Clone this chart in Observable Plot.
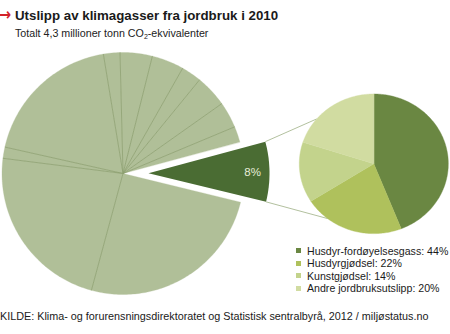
<!DOCTYPE html>
<html>
<head>
<meta charset="utf-8">
<script src="https://cdn.jsdelivr.net/npm/d3@7"></script>
<script src="https://cdn.jsdelivr.net/npm/@observablehq/plot@0.6"></script>
<style>
  html, body { margin: 0; padding: 0; background: #fff; }
  body { font-family: "Liberation Sans", Arial, sans-serif; color: #1a1a1a; }
  #wrap { position: relative; width: 450px; height: 334px; overflow: hidden; }
  #title { position: absolute; left: 15px; top: 8px; font-size: 13.3px; font-weight: bold; white-space: nowrap; line-height: 16px; }
  #arrow { position: absolute; left: -1px; top: 4px; color: #d2232a; font-family: "DejaVu Sans", sans-serif; font-weight: bold; font-size: 17px; line-height: 20px; transform: scaleX(0.85); transform-origin: left center; }
  #sub { position: absolute; left: 15px; top: 26px; font-size: 10.7px; white-space: nowrap; line-height: 14px; color: #222; }
  #sub sub { font-size: 7px; vertical-align: -2px; line-height: 0; }
  #chart { position: absolute; left: 0; top: 44px; }
  #legend { position: absolute; left: 296px; top: 244.5px; font-size: 10.6px; color: #1a1a1a; }
  #legend .row { display: flex; align-items: center; height: 12.5px; white-space: nowrap; }
  #legend .sw { width: 5px; height: 5px; margin-right: 6px; flex: none; }
  #caption { position: absolute; left: 0; top: 309px; font-size: 10.8px; white-space: nowrap; line-height: 14px; color: #1a1a1a; }
</style>
</head>
<body>
<div id="wrap">
  <div id="arrow">→</div>
  <div id="title">Utslipp av klimagasser fra jordbruk i 2010</div>
  <div id="sub">Totalt 4,3 millioner tonn CO<sub>2</sub>-ekvivalenter</div>
  <div id="chart"></div>
  <div id="legend"></div>
  <div id="caption">KILDE: Klima- og forurensningsdirektoratet og Statistisk sentralbyrå, 2012 / miljøstatus.no</div>
</div>
<script>
// ---- data ----
const jordbrukShare = 8;                 // jordbruk, % av totale utslipp
const jordbrukLabel = "8%";
const otherSectorShares = [25.4, 22.8, 1.5, 18.9, 2.2, 4.3, 4.3, 2.7, 4.3, 3.5, 2.1]; // andre sektorer, %
const subCategories = ["Husdyr-fordøyelsesgass", "Husdyrgjødsel", "Kunstgjødsel", "Andre jordbruksutslipp"];
const subShares = [44, 22, 14, 20];

// ---- styles ----
const subColors = ["#6a8742", "#afc15c", "#c3d38c", "#d1dca1"];
const bigFill = "#b0bf98";
const bigLine = "#8d9f70";
const jordFill = "#4a6c33";
const connectorColor = "#a9b993";

// ---- layout (page pixel coordinates) ----
const TOP = 44, H = 258, W = 450;
const big = {cx: 122.5, cy: 173, r: 121};
const explode = 25.5;
const jordStart = 74.9;              // compass degrees, clockwise from north
const small = {cx: 373.3, cy: 163.3, rx: 74.5, ry: 69.8};
const connectorAngles = [310, 218.3];

const rad = d => d * Math.PI / 180;
function pt(cx, cy, rx, ry, a) { return {x: cx + rx * Math.sin(rad(a)), y: cy - ry * Math.cos(rad(a))}; }
function slicePoly(id, cx, cy, rx, ry, a0, a1) {
  const pts = [{id, x: cx, y: cy}];
  const n = Math.max(2, Math.ceil((a1 - a0) / 1));
  for (let i = 0; i <= n; i++) {
    const p = pt(cx, cy, rx, ry, a0 + (a1 - a0) * i / n);
    pts.push({id, ...p});
  }
  return pts;
}

// big pie: jordbruk slice first, then other sectors clockwise
const total = jordbrukShare + d3.sum(otherSectorShares);
const jordSpan = 360 * jordbrukShare / total;
const jordMid = jordStart + jordSpan / 2;
const ex = explode * Math.sin(rad(jordMid)), ey = -explode * Math.cos(rad(jordMid));
const jordPoly = slicePoly("jordbruk", big.cx + ex, big.cy + ey, big.r, big.r, jordStart, jordStart + jordSpan);
const jordText = [{text: jordbrukLabel, ...pt(big.cx + ex, big.cy + ey, big.r * 0.86, big.r * 0.86, jordMid)}];

let a = jordStart + jordSpan;
const bigPolys = [];
const bigBoundaries = [];
otherSectorShares.forEach((v, i) => {
  const span = 360 * v / total;
  bigPolys.push(...slicePoly("s" + i, big.cx, big.cy, big.r, big.r, a, a + span));
  if (i > 0) {
    const p = pt(big.cx, big.cy, big.r, big.r, a);
    bigBoundaries.push({x1: big.cx, y1: big.cy, x2: p.x, y2: p.y});
  }
  a += span;
});

// small pie
const subTotal = d3.sum(subShares);
let b = 0;
const subPolys = [];
subCategories.forEach((c, i) => {
  const span = 360 * subShares[i] / subTotal;
  subPolys.push(...slicePoly(c, small.cx, small.cy, small.rx, small.ry, b, b + span));
  b += span;
});

// connectors: jordbruk outer corners -> small pie
const c0 = pt(big.cx + ex, big.cy + ey, big.r, big.r, jordStart);
const c1 = pt(big.cx + ex, big.cy + ey, big.r, big.r, jordStart + jordSpan);
const s0 = pt(small.cx, small.cy, small.rx, small.ry, connectorAngles[0]);
const s1 = pt(small.cx, small.cy, small.rx, small.ry, connectorAngles[1]);
const connectors = [
  {x1: c0.x, y1: c0.y, x2: s0.x, y2: s0.y},
  {x1: c1.x, y1: c1.y, x2: s1.x, y2: s1.y}
];

const chart = Plot.plot({
  width: W, height: H, margin: 0,
  x: {domain: [0, W], axis: null},
  y: {domain: [TOP + H, TOP], axis: null},
  color: {domain: subCategories, range: subColors},
  style: {background: "transparent", fontFamily: "'Liberation Sans', Arial, sans-serif"},
  marks: [
    Plot.line(bigPolys, {x: "x", y: "y", z: "id", fill: bigFill, stroke: bigFill, strokeWidth: 0.3, curve: "linear-closed"}),
    Plot.link(bigBoundaries, {x1: "x1", y1: "y1", x2: "x2", y2: "y2", stroke: bigLine, strokeWidth: 0.8}),
    Plot.line(jordPoly, {x: "x", y: "y", z: "id", fill: jordFill, stroke: "none", curve: "linear-closed"}),
    Plot.text(jordText, {x: "x", y: "y", text: "text", fill: "#e6ecd8", fontSize: 11.5}),
    Plot.link(connectors, {x1: "x1", y1: "y1", x2: "x2", y2: "y2", stroke: connectorColor, strokeWidth: 0.9}),
    Plot.line(subPolys, {x: "x", y: "y", z: "id", fill: "id", stroke: "id", strokeWidth: 0.4, curve: "linear-closed"})
  ]
});
document.getElementById("chart").appendChild(chart);

// legend
const legend = document.getElementById("legend");
subCategories.forEach((c, i) => {
  const row = document.createElement("div");
  row.className = "row";
  const sw = document.createElement("span");
  sw.className = "sw";
  sw.style.background = subColors[i];
  const t = document.createElement("span");
  t.textContent = `${c}: ${subShares[i]}%`;
  row.appendChild(sw); row.appendChild(t);
  legend.appendChild(row);
});
</script>
</body>
</html>
